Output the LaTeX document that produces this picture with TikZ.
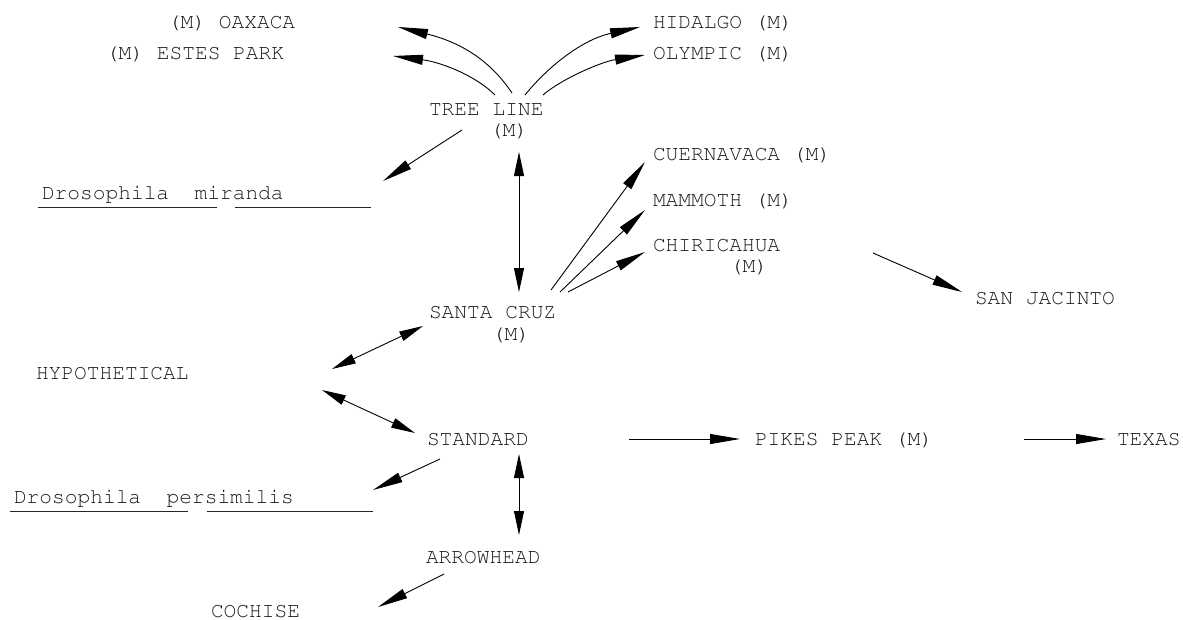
\documentclass[tikz,border=0pt]{standalone}
\usetikzlibrary{arrows.meta}
\newcommand\courfont{\fontencoding{T1}\fontfamily{pcr}\fontseries{m}\fontshape{n}\fontsize{21.2}{23}\selectfont}
\tikzset{
  lbl/.style={anchor=base west, inner sep=0pt, outer sep=0pt, text=black!90, font=\courfont},
  conn/.style={line width=0.9pt},
  arr/.style={conn, -{Triangle[length=30pt,width=10pt]}},
  darr/.style={conn, {Triangle[length=24pt,width=10pt]}-{Triangle[length=24pt,width=10pt]}},
  uline/.style={line width=1pt, black!85},
}
\begin{document}
\begin{tikzpicture}[x=1pt,y=-1pt]
\useasboundingbox (0,0) rectangle (1183,619);
% labels
\node[lbl] (oax)   at (168,28)  {(M) OAXACA};
\node[lbl] (estes) at (106,59)  {(M) ESTES PARK};
\node[lbl] (hid)   at (653,28)  {HIDALGO (M)};
\node[lbl] (oly)   at (653,59)  {OLYMPIC (M)};
\node[lbl] (tl)    at (429,115) {TREE LINE};
\node[lbl] (tlm)   at (490,136) {(M)};
\node[lbl] (dmir)  at (42,199)  {Drosophila\ \ miranda};
\node[lbl] (cue)   at (653,160) {CUERNAVACA (M)};
\node[lbl] (mam)   at (653,206) {MAMMOTH (M)};
\node[lbl] (chi)   at (653,251) {CHIRICAHUA};
\node[lbl] (chim)  at (730,272) {(M)};
\node[lbl] (sj)    at (975,304) {SAN JACINTO};
\node[lbl] (sc)    at (429,318) {SANTA CRUZ};
\node[lbl] (scm)   at (492,340) {(M)};
\node[lbl] (hyp)   at (36,379)  {HYPOTHETICAL};
\node[lbl] (std)   at (427,445) {STANDARD};
\node[lbl] (pp)    at (755,445) {PIKES PEAK (M)};
\node[lbl] (tex)   at (1117,445) {TEXAS};
\node[lbl] (dper)  at (14,503)  {Drosophila\ \ persimilis};
\node[lbl] (arh)   at (426,563) {ARROWHEAD};
\node[lbl] (coc)   at (211,617) {COCHISE};
% underlines
\draw[uline] ([shift={(-4,8)}]dmir.base west) -- ([shift={(175,8)}]dmir.base west);
\draw[uline] ([shift={(193,8)}]dmir.base west) -- ([shift={(329,8)}]dmir.base west);
\draw[uline] ([shift={(-4,8)}]dper.base west) -- ([shift={(174,8)}]dper.base west);
\draw[uline] ([shift={(193,8)}]dper.base west) -- ([shift={(359,8)}]dper.base west);
% curved arrows from TREE LINE
\draw[arr] ([shift={(83,-22)}]tl.base west) .. controls (490,60) and (460,42) .. ([shift={(230,-1)}]oax.base west);
\draw[arr] ([shift={(66,-20)}]tl.base west) .. controls (475,75) and (440,62) .. ([shift={(287,-3)}]estes.base west);
\draw[arr] ([shift={(96,-20)}]tl.base west) .. controls (545,70) and (580,40) .. ([shift={(-13,-1)}]hid.base west);
\draw[arr] ([shift={(114,-20)}]tl.base west) .. controls (560,80) and (600,62) .. ([shift={(-8,-4)}]oly.base west);
% straight arrows
\draw[arr] ([shift={(33,15)}]tl.base west) -- ([shift={(341,-18)}]dmir.base west);
\draw[darr] ([shift={(29,16)}]tlm.base west) -- ([shift={(90,-26)}]sc.base west);
\draw[arr] ([shift={(122,-28)}]sc.base west) -- ([shift={(-8,2)}]cue.base west);
\draw[arr] ([shift={(131,-26)}]sc.base west) -- ([shift={(-8,4)}]mam.base west);
\draw[arr] ([shift={(139,-26)}]sc.base west) -- ([shift={(-8,1)}]chi.base west);
\draw[arr] ([shift={(220,2)}]chi.base west) -- ([shift={(-13,-12)}]sj.base west);
\draw[darr] ([shift={(296,-10)}]hyp.base west) -- ([shift={(-6,8)}]sc.base west);
\draw[darr] ([shift={(286,11)}]hyp.base west) -- ([shift={(-12,-12)}]std.base west);
\draw[arr] ([shift={(202,-6)}]std.base west) -- ([shift={(-15,-6)}]pp.base west);
\draw[arr] ([shift={(269,-6)}]pp.base west) -- ([shift={(-11,-6)}]tex.base west);
\draw[arr] ([shift={(13,14)}]std.base west) -- ([shift={(359,-13)}]dper.base west);
\draw[darr] ([shift={(92,9)}]std.base west) -- ([shift={(93,-28)}]arh.base west);
\draw[arr] ([shift={(18,11)}]arh.base west) -- ([shift={(167,-10)}]coc.base west);
\end{tikzpicture}
\end{document}
